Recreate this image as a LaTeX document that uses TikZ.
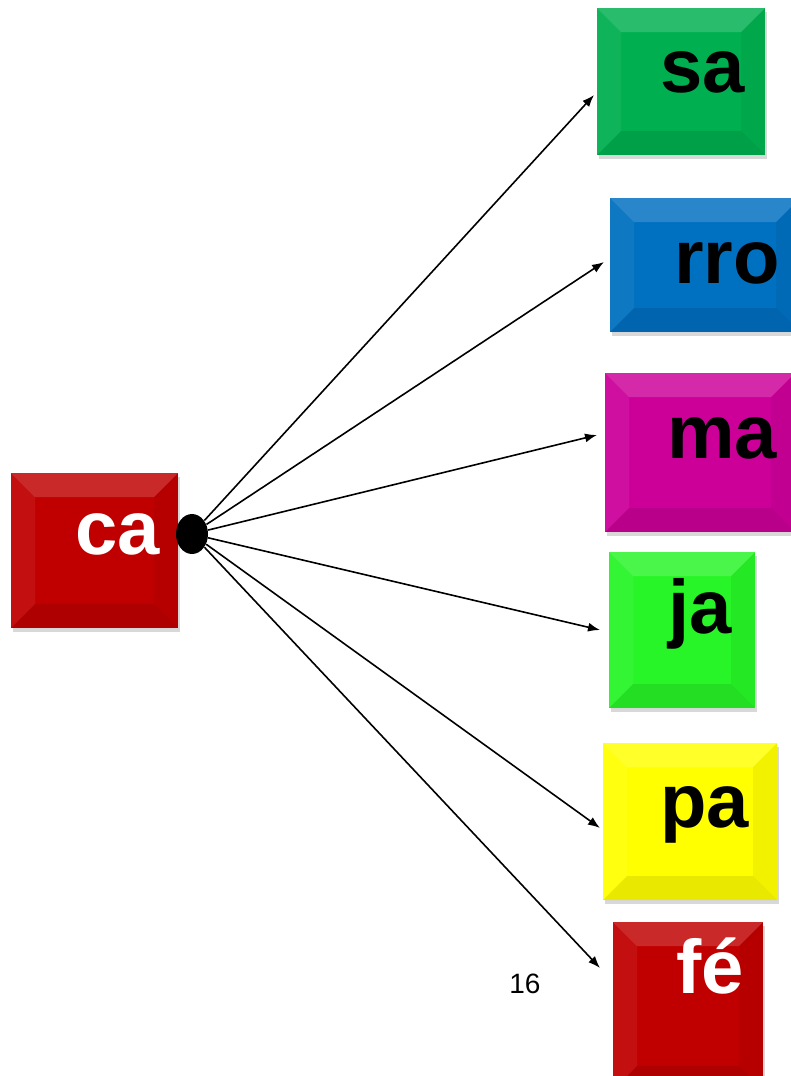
\documentclass[tikz,border=0pt]{standalone}
\usepackage{fontspec}
\setmainfont{Liberation Sans}
\usetikzlibrary{arrows.meta,shadows,shapes.geometric}
\definecolor{tilered}{RGB}{192,0,0}
\definecolor{tilegreen}{RGB}{0,176,80}
\definecolor{tileblue}{RGB}{0,112,192}
\definecolor{tilemagenta}{RGB}{204,0,153}
\definecolor{tilelime}{RGB}{40,245,40}
\definecolor{tileyellow}{RGB}{255,255,0}

\begin{document}
\begin{tikzpicture}[x=0.5pt,y=-0.5pt,
  tile/.style={rectangle,inner sep=0pt,fill=#1,
    drop shadow={shadow xshift=1pt,shadow yshift=-2pt,opacity=0.3},
    path picture={
      \fill[white,opacity=0.16] (path picture bounding box.north west) -- (path picture bounding box.north east)
        -- ([shift={(-12pt,-12pt)}]path picture bounding box.north east) -- ([shift={(12pt,-12pt)}]path picture bounding box.north west) -- cycle;
      \fill[white,opacity=0.06] (path picture bounding box.north west) -- (path picture bounding box.south west)
        -- ([shift={(12pt,12pt)}]path picture bounding box.south west) -- ([shift={(12pt,-12pt)}]path picture bounding box.north west) -- cycle;
      \fill[black,opacity=0.05] (path picture bounding box.north east) -- (path picture bounding box.south east)
        -- ([shift={(-12pt,12pt)}]path picture bounding box.south east) -- ([shift={(-12pt,-12pt)}]path picture bounding box.north east) -- cycle;
      \fill[black,opacity=0.09] (path picture bounding box.south west) -- (path picture bounding box.south east)
        -- ([shift={(-12pt,12pt)}]path picture bounding box.south east) -- ([shift={(12pt,12pt)}]path picture bounding box.south west) -- cycle;
    }},
  word/.style={inner sep=0pt,anchor=base west,font=\fontsize{38}{46}\selectfont\bfseries},
  hub/.style={ellipse,fill=black,inner sep=0pt,minimum width=16pt,minimum height=20pt},
  link/.style={-{Latex[length=6pt,width=4.5pt]},line width=0.8pt}]
\fill[white] (0,0) rectangle (791,1076);
\useasboundingbox (0,0) rectangle (791,1076);

\node[tile=tilered,minimum width=83.5pt,minimum height=77.5pt] (cabox) at (94.5,550.5) {};
\node[tile=tilegreen,minimum width=84pt,minimum height=73.5pt] (sabox) at (681,81.5) {};
\node[tile=tileblue,minimum width=95pt,minimum height=67pt] (rrobox) at (705,265) {};
\node[tile=tilemagenta,minimum width=95pt,minimum height=79.5pt] (mabox) at (700,452.5) {};
\node[tile=tilelime,minimum width=73pt,minimum height=78pt] (jabox) at (682,630) {};
\node[tile=tileyellow,minimum width=87pt,minimum height=78.5pt] (pabox) at (690,821.5) {};
\node[tile=tilered,minimum width=75pt,minimum height=84pt] (febox) at (688,1006) {};

\node[word,white] (ca) at (75,554) {ca};
\node[word] (sa) at (660,92) {sa};
\node[word] (rro) at (674,283) {rro};
\node[word] (ma) at (667,458) {ma};
\node[word] (ja) at (668,633) {ja};
\node[word] (pa) at (660,827) {pa};
\node[word,white] (fe) at (676,993) {fé};
\node[inner sep=0pt,anchor=base west,font=\fontsize{14}{16}\selectfont] (page) at (509,993) {16};

\node[hub] (hub) at (192,534) {};
\coordinate (tosa) at (594,95);
\coordinate (torro) at (604,262);
\coordinate (toma) at (597,435);
\coordinate (toja) at (600,630);
\coordinate (topa) at (600,828);
\coordinate (tofe) at (600,968);
\foreach \t in {tosa,torro,toma,toja,topa,tofe}
  \draw[link] (hub) -- (\t);
\end{tikzpicture}
\end{document}
